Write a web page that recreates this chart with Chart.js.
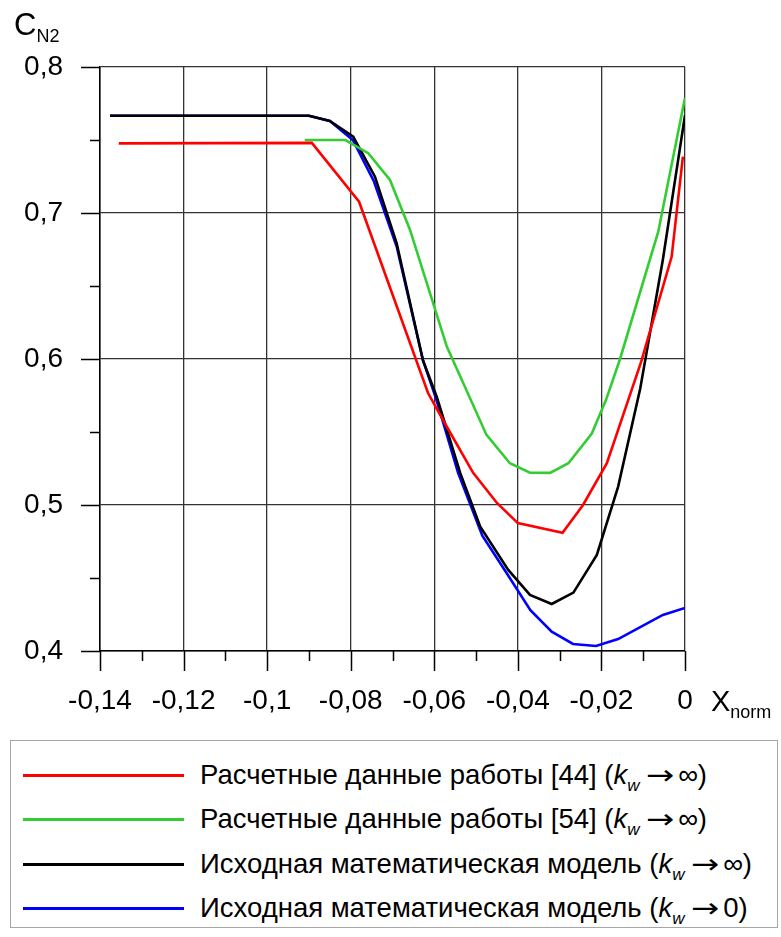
<!DOCTYPE html>
<html>
<head>
<meta charset="utf-8">
<script src="https://cdn.jsdelivr.net/npm/chart.js@4.4.1/dist/chart.umd.min.js"></script>
<style>
  html, body { margin: 0; padding: 0; background: #fff; }
  #wrap { position: relative; width: 781px; height: 937px; font-family: "Liberation Sans", Arial, sans-serif; color: #000; }
  #c { position: absolute; left: 0; top: 0; }
  .axt { position: absolute; white-space: nowrap; line-height: 1; }
  .axt sub { font-size: 18px; vertical-align: baseline; position: relative; top: 7px; }
  #legend { position: absolute; left: 10px; top: 740px; width: 768px; height: 188px; border: 1.5px solid #a6a6a6; box-sizing: border-box; }
  .row { position: absolute; left: 0; height: 32px; }
  .row .ln { position: absolute; left: 12px; width: 161px; height: 3px; top: 15px; }
  .row .tx { position: absolute; left: 189px; top: 0; font-size: 27.5px; white-space: nowrap; line-height: 32px; }
  .row .tx sub { font-size: 17px; font-style: italic; vertical-align: baseline; position: relative; top: 7px; }
  .arr { display: inline-block; font-family: "DejaVu Sans", sans-serif; font-size: 27px; margin-left: 9px; margin-right: 7px; transform: scaleX(1.25); }
</style>
</head>
<body>
<div id="wrap">
  <canvas id="c" width="781" height="740"></canvas>
  <div class="axt" style="left:14px; top:9px; font-size:31px;">C<sub>N2</sub></div>
  <div class="axt" style="left:711px; top:687px; font-size:29px;">X<sub>norm</sub></div>
  <div id="legend"></div>
</div>
<script>
// ---- data ----
const redX   = [-0.1355, -0.0893, -0.0780, -0.0615, -0.0570, -0.0507, -0.0450, -0.0400, -0.0293, -0.0244, -0.0187, -0.0105, -0.0032, -0.0005];
const redY   = [ 0.7477,  0.7480,  0.7077,  0.5767,  0.5536,  0.5220,  0.5014,  0.4876,  0.4810,  0.5000,  0.5287,  0.5980,  0.6700,  0.7386];

const greenX = [-0.0910, -0.0813, -0.0758, -0.0706, -0.0658, -0.0570, -0.0475, -0.0419, -0.0371, -0.0323, -0.0279, -0.0223, -0.0189, -0.0156, -0.0064, 0.0000];
const greenY = [ 0.7500,  0.7500,  0.7410,  0.7226,  0.6884,  0.6085,  0.5480,  0.5286,  0.5221,  0.5220,  0.5286,  0.5490,  0.5720,  0.5995,  0.6872, 0.7790];

const blackX = [-0.1376, -0.0900, -0.0850, -0.0794, -0.0742, -0.0690, -0.0627, -0.0594, -0.0538, -0.0490, -0.0423, -0.0371, -0.0319, -0.0267, -0.0211, -0.0160, -0.0107, -0.0053, 0.0000];
const blackY = [ 0.7666,  0.7666,  0.7630,  0.7523,  0.7249,  0.6792,  0.5990,  0.5740,  0.5220,  0.4851,  0.4555,  0.4384,  0.4322,  0.4400,  0.4658,  0.5126,  0.5800,  0.6680, 0.7670];

const blueX  = [-0.1376, -0.0900, -0.0850, -0.0795, -0.0745, -0.0690, -0.0627, -0.0597, -0.0543, -0.0485, -0.0427, -0.0370, -0.0319, -0.0268, -0.0213, -0.0160, -0.0053, 0.0000];
const blueY  = [ 0.7666,  0.7666,  0.7630,  0.7500,  0.7220,  0.6770,  0.5990,  0.5740,  0.5220,  0.4790,  0.4534,  0.4280,  0.4132,  0.4048,  0.4034,  0.4082,  0.4247, 0.4295];

const seriesNames = [
  'Расчетные данные работы [44] (<i>k</i><sub>w</sub><span class="arr">→</span>∞)',
  'Расчетные данные работы [54] (<i>k</i><sub>w</sub><span class="arr">→</span>∞)',
  'Исходная математическая модель (<i>k</i><sub>w</sub><span class="arr">→</span>∞)',
  'Исходная математическая модель (<i>k</i><sub>w</sub><span class="arr">→</span>0)'
];
const seriesColors = ['#ff0000', '#33cc33', '#000000', '#0000ff'];

const xMin = -0.14, xMax = 0, xStep = 0.01;
const yMin = 0.4, yMax = 0.8, yStep = 0.05;

function pts(xs, ys) { return xs.map((x, i) => ({ x: x, y: ys[i] })); }
function fmt(v) { return String(Number(v.toFixed(2))).replace('.', ','); }
function isMajorX(v) { return Math.round(v * 100) % 2 === 0; }
function isMajorY(v) { return Math.round(v * 100) % 10 === 0; }

const tickPlugin = {
  id: 'outerTicks',
  afterDraw(chart) {
    const ctx = chart.ctx, ca = chart.chartArea;
    const xs = chart.scales.x, ys = chart.scales.y;
    ctx.save();
    ctx.strokeStyle = '#000';
    ctx.lineWidth = 1.5;
    ctx.beginPath();
    xs.ticks.forEach(t => {
      const p = Math.round(xs.getPixelForValue(t.value)) + 0.5;
      const len = isMajorX(t.value) ? 20 : 10;
      ctx.moveTo(p, ca.bottom); ctx.lineTo(p, ca.bottom + len);
    });
    ys.ticks.forEach(t => {
      const p = Math.round(ys.getPixelForValue(t.value)) + 0.5;
      const len = isMajorY(t.value) ? 19 : 10;
      ctx.moveTo(ca.left - len, p); ctx.lineTo(ca.left, p);
    });
    ctx.stroke();
    ctx.restore();
  }
};

Chart.defaults.font.family = '"Liberation Sans", Arial, sans-serif';
Chart.defaults.color = '#000';

const datasets = [
  [redX, redY], [greenX, greenY], [blackX, blackY], [blueX, blueY]
].map((d, i) => ({
  label: seriesNames[i].replace(/<[^>]+>/g, ''),
  data: pts(d[0], d[1]),
  borderColor: seriesColors[i],
  backgroundColor: seriesColors[i],
  borderWidth: 2.6,
  pointRadius: 0,
  tension: 0,
  fill: false
}));

new Chart(document.getElementById('c'), {
  type: 'line',
  data: { datasets: datasets },
  plugins: [tickPlugin],
  options: {
    responsive: false,
    animation: false,
    devicePixelRatio: 1,
    layout: { padding: { left: 0, top: 67, right: 96, bottom: 0 } },
    plugins: { legend: { display: false }, tooltip: { enabled: false } },
    scales: {
      x: {
        type: 'linear', min: xMin, max: xMax,
        afterFit(s) { s.height = 89; },
        ticks: {
          stepSize: xStep, autoSkip: false, maxRotation: 0,
          padding: 33,
          font: { size: 28 },
          callback: (v) => isMajorX(v) ? fmt(v) : ''
        },
        grid: {
          drawTicks: false,
          color: (c) => (c.tick && isMajorX(c.tick.value)) ? '#333333' : 'rgba(0,0,0,0)',
          lineWidth: 1.3
        },
        border: { display: true, color: '#000', width: 1.5 }
      },
      y: {
        type: 'linear', min: yMin, max: yMax,
        afterFit(s) { s.width = 100; },
        ticks: {
          stepSize: yStep, autoSkip: false,
          padding: 37,
          font: { size: 28 },
          callback: (v) => isMajorY(v) ? fmt(v) : ''
        },
        grid: {
          drawTicks: false,
          color: (c) => (c.tick && isMajorY(c.tick.value)) ? '#333333' : 'rgba(0,0,0,0)',
          lineWidth: 1.3
        },
        border: { display: true, color: '#000', width: 1.5 }
      }
    }
  }
});

// legend (HTML, text kept as real text)
const leg = document.getElementById('legend');
const rowTops = [18, 62, 107, 151];
seriesNames.forEach((n, i) => {
  const r = document.createElement('div');
  r.className = 'row';
  r.style.top = rowTops[i] + 'px';
  r.innerHTML = '<div class="ln" style="background:' + seriesColors[i] + '"></div><div class="tx">' + n + '</div>';
  leg.appendChild(r);
});
</script>
</body>
</html>
